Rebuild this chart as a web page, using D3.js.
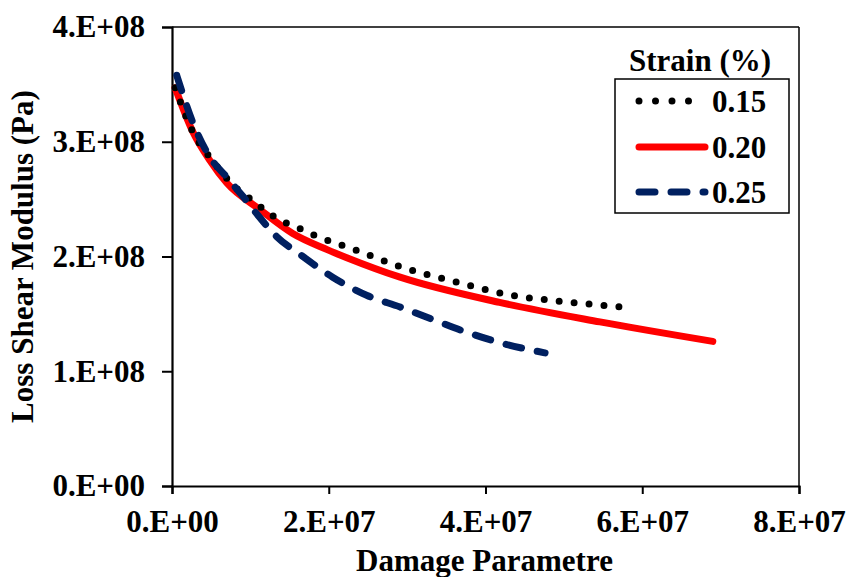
<!DOCTYPE html>
<html><head><meta charset="utf-8">
<script src="https://cdn.jsdelivr.net/npm/d3@7"></script>
<style>body{margin:0;background:#fff}svg{display:block}text{font-family:"Liberation Serif","Times New Roman",serif;font-weight:bold;fill:#000}</style>
</head><body>
<script>
const xTicks = [0, 2e7, 4e7, 6e7, 8e7];
const xTickLabels = ["0.E+00", "2.E+07", "4.E+07", "6.E+07", "8.E+07"];
const yTicks = [0, 1e8, 2e8, 3e8, 4e8];
const yTickLabels = ["0.E+00", "1.E+08", "2.E+08", "3.E+08", "4.E+08"];
const seriesNames = ["0.15", "0.20", "0.25"];
const s015x = [0.04e7, 0.27e7, 0.51e7, 0.64e7, 0.78e7, 0.93e7, 1.08e7, 1.25e7, 1.43e7, 1.61e7, 1.80e7, 1.99e7, 2.37e7, 2.96e7, 3.56e7, 4.35e7, 4.95e7, 5.75e7];
const s015y = [3.47e8, 3.08e8, 2.84e8, 2.73e8, 2.62e8, 2.54e8, 2.46e8, 2.37e8, 2.30e8, 2.25e8, 2.19e8, 2.14e8, 2.05e8, 1.90e8, 1.79e8, 1.66e8, 1.61e8, 1.56e8];
const s020x = [0.04e7, 0.27e7, 0.48e7, 0.70e7, 1.12e7, 1.54e7, 1.98e7, 2.23e7, 2.91e7, 4.18e7, 5.46e7, 6.90e7];
const s020y = [3.47e8, 3.08e8, 2.84e8, 2.64e8, 2.41e8, 2.20e8, 2.06e8, 1.99e8, 1.82e8, 1.60e8, 1.43e8, 1.26e8];
const s025x = [0.06e7, 0.27e7, 0.48e7, 0.70e7, 0.91e7, 1.12e7, 1.34e7, 1.63e7, 2.05e7, 2.49e7, 2.91e7, 3.33e7, 3.76e7, 4.18e7, 4.76e7];
const s025y = [3.58e8, 3.16e8, 2.87e8, 2.69e8, 2.52e8, 2.34e8, 2.17e8, 2.02e8, 1.82e8, 1.66e8, 1.56e8, 1.45e8, 1.34e8, 1.25e8, 1.16e8];

const W = 851, H = 577;
const L = 172, R = 799, T = 27, B = 486;
const FS = 31;
const FF = '"Liberation Serif","Times New Roman",serif';
const svg = d3.select("body").append("svg").attr("width", W).attr("height", H);
const x = d3.scaleLinear().domain([0, 8e7]).range([L, R]);
const y = d3.scaleLinear().domain([0, 4e8]).range([B, T]);

// frame
svg.append("line").attr("x1", L).attr("x2", R).attr("y1", T).attr("y2", T).attr("stroke", "#000").attr("stroke-width", 1.5);
svg.append("line").attr("x1", R).attr("x2", R).attr("y1", T).attr("y2", B).attr("stroke", "#000").attr("stroke-width", 1.5);

const xAxis = d3.axisBottom(x).tickValues(xTicks).tickFormat((d, i) => xTickLabels[i]).tickSize(8).tickPadding(16);
const gx = svg.append("g").attr("transform", `translate(0,${B})`).call(xAxis);
gx.select(".domain").attr("stroke-width", 2.2);
gx.selectAll(".tick line").attr("stroke-width", 2);
gx.selectAll("text").attr("font-size", FS).attr("dy", "0.71em").style("font-family", FF).style("font-weight", "bold");

const yAxis = d3.axisLeft(y).tickValues(yTicks).tickFormat((d, i) => yTickLabels[i]).tickSize(10).tickPadding(17);
const gy = svg.append("g").attr("transform", `translate(${L},0)`).call(yAxis);
gy.select(".domain").attr("stroke-width", 2.2);
gy.selectAll(".tick line").attr("stroke-width", 2);
gy.selectAll("text").attr("font-size", FS).style("font-family", FF).style("font-weight", "bold");

svg.append("text").attr("x", (L + R) / 2 - 1).attr("y", 571).attr("text-anchor", "middle").attr("font-size", FS).text("Damage Parametre");
svg.append("text").attr("transform", `translate(33,${(T + B) / 2}) rotate(-90)`).attr("text-anchor", "middle").attr("font-size", FS).text("Loss Shear Modulus (Pa)");

const line = d3.line().x(d => x(d[0])).y(d => y(d[1])).curve(d3.curveMonotoneX);
const styles = [
  {color: "#000", width: 7, dash: "0 15"},
  {color: "#ff0000", width: 7, dash: null},
  {color: "#002060", width: 7, dash: "16 16"}
];
const data = [d3.zip(s015x, s015y), d3.zip(s020x, s020y), d3.zip(s025x, s025y)];
const order = [1, 0, 2];
order.forEach(i => {
  const p = svg.append("path").datum(data[i]).attr("d", line).attr("fill", "none")
    .attr("stroke", styles[i].color).attr("stroke-width", styles[i].width).attr("stroke-linecap", "round");
  if (styles[i].dash) p.attr("stroke-dasharray", styles[i].dash);
});

// legend
svg.append("text").attr("x", 700).attr("y", 71).attr("text-anchor", "middle").attr("font-size", FS).text("Strain (%)");
svg.append("rect").attr("x", 615).attr("y", 79).attr("width", 174).attr("height", 134).attr("fill", "#fff").attr("stroke", "#000").attr("stroke-width", 1.5);
const ly = [101, 147, 192];
seriesNames.forEach((n, i) => {
  const l = svg.append("line").attr("x1", 639).attr("x2", 705).attr("y1", ly[i]).attr("y2", ly[i])
    .attr("stroke", styles[i].color).attr("stroke-width", styles[i].width).attr("stroke-linecap", "round");
  if (styles[i].dash) l.attr("stroke-dasharray", i === 0 ? "0 16.5" : "16 16");
  svg.append("text").attr("x", 712).attr("y", ly[i]).attr("dy", "0.35em").attr("font-size", FS).text(n);
});
</script>
</body></html>
